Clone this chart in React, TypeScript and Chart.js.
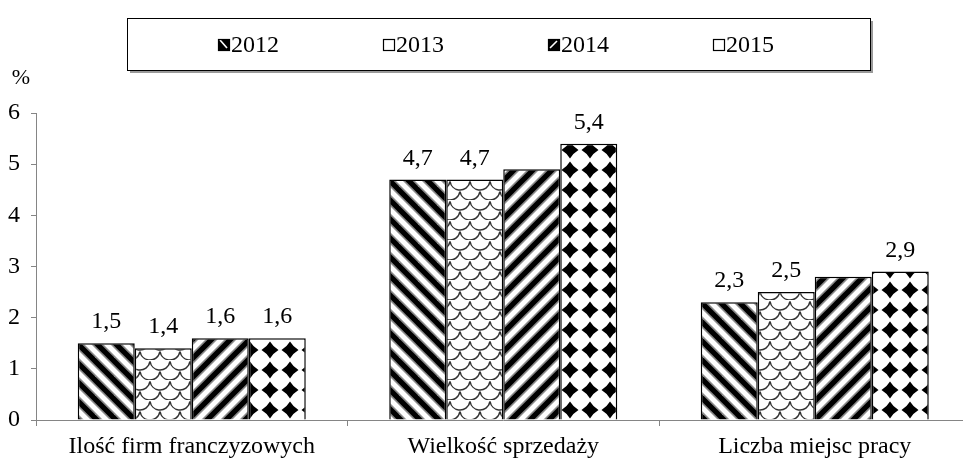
import { useEffect, useRef } from "react";
import { Chart, registerables } from "chart.js";
Chart.register(...registerables);

const categories = ["Ilość firm franczyzowych", "Wielkość sprzedaży", "Liczba miejsc pracy"];
const seriesNames = ["2012", "2013", "2014", "2015"];
const values2012 = [1.5, 4.7, 2.3];
const values2013 = [1.4, 4.7, 2.5];
const values2014 = [1.6, 4.9, 2.8];
const values2015 = [1.6, 5.4, 2.9];
const shown2012 = [true, true, true];
const shown2013 = [true, true, true];
const shown2014 = [true, false, false];
const shown2015 = [true, true, true];
const yTicks = [0, 1, 2, 3, 4, 5, 6];
const yUnit = "%";

const FONT = "'Liberation Serif', 'Times New Roman', serif";
const AXIS_GRAY = "#858585";

function tile(w: number, h: number, draw: (c: CanvasRenderingContext2D) => void) {
  const cv = document.createElement("canvas");
  cv.width = w;
  cv.height = h;
  const c = cv.getContext("2d")!;
  c.fillStyle = "#fff";
  c.fillRect(0, 0, w, h);
  draw(c);
  return cv;
}

function stripes(dir: 1 | -1) {
  const p = 19;
  return tile(p, p, (c) => {
    const lines = (width: number, color: string) => {
      c.strokeStyle = color;
      c.lineWidth = width;
      for (const k of [-1, 0, 1]) {
        c.beginPath();
        if (dir === 1) {
          c.moveTo(-5, -5 + k * p);
          c.lineTo(p + 5, p + 5 + k * p);
        } else {
          c.moveTo(-5, p + 5 + k * p);
          c.lineTo(p + 5, -5 + k * p);
        }
        c.stroke();
      }
    };
    lines(8.5, "#8a8a8a");
    lines(5.2, "#000");
  });
}

function scales() {
  return tile(20, 20, (c) => {
    c.strokeStyle = "#333";
    c.lineWidth = 1.5;
    const arcs: [number, number][] = [
      [0, 0],
      [20, 0],
      [10, 10],
      [0, 20],
      [20, 20],
    ];
    for (const [x, y] of arcs) {
      c.beginPath();
      c.arc(x, y, 10, 0.15, Math.PI - 0.15);
      c.stroke();
    }
  });
}

function diamonds() {
  return tile(20, 20, (c) => {
    c.fillStyle = "#000";
    const cx = 10,
      cy = 10,
      r = 8.5;
    const k = 3.2;
    c.beginPath();
    c.moveTo(cx, cy - r);
    c.quadraticCurveTo(cx + k, cy - k, cx + r, cy);
    c.quadraticCurveTo(cx + k, cy + k, cx, cy + r);
    c.quadraticCurveTo(cx - k, cy + k, cx - r, cy);
    c.quadraticCurveTo(cx - k, cy - k, cx, cy - r);
    c.fill();
  });
}

function fmt(v: number) {
  return v.toFixed(1).replace(".", ",");
}

export default function App() {
  const ref = useRef<HTMLCanvasElement | null>(null);

  useEffect(() => {
    document.documentElement.style.overflow = "hidden";
    document.body.style.margin = "0";
    document.body.style.overflow = "hidden";
    const canvas = ref.current!;
    const ctx = canvas.getContext("2d")!;
    const patterns = [
      ctx.createPattern(stripes(1), "repeat")!,
      ctx.createPattern(scales(), "repeat")!,
      ctx.createPattern(stripes(-1), "repeat")!,
      ctx.createPattern(diamonds(), "repeat")!,
    ];
    const allValues = [values2012, values2013, values2014, values2015];
    const allShown = [shown2012, shown2013, shown2014, shown2015];

    const extras = {
      id: "extras",
      afterDatasetsDraw(chart: any) {
        const c = chart.ctx as CanvasRenderingContext2D;
        c.save();
        c.fillStyle = "#000";
        c.font = `24px ${FONT}`;
        c.textAlign = "center";
        c.textBaseline = "alphabetic";
        chart.data.datasets.forEach((ds: any, di: number) => {
          const meta = chart.getDatasetMeta(di);
          meta.data.forEach((bar: any, i: number) => {
            if (!allShown[di][i]) return;
            c.fillText(fmt(ds.data[i]), bar.x, bar.y - 15);
          });
        });
        // unit label
        c.font = `22px ${FONT}`;
        c.textAlign = "center";
        c.textBaseline = "middle";
        c.fillText(yUnit, 21, 78);

        // legend box
        const bx = 127,
          by = 18,
          bw = 743,
          bh = 52;
        c.fillStyle = "#9a9a9a";
        c.fillRect(bx + 3, by + 3, bw, bh);
        c.fillStyle = "#fff";
        c.fillRect(bx, by, bw, bh);
        c.strokeStyle = "#000";
        c.lineWidth = 1;
        c.strokeRect(bx + 0.5, by + 0.5, bw, bh);
        c.font = `24px ${FONT}`;
        c.textAlign = "left";
        c.textBaseline = "middle";
        chart.data.datasets.forEach((ds: any, di: number) => {
          const mx = 218 + di * 165;
          const my = 39;
          const s = 11;
          if (di === 0 || di === 2) {
            c.fillStyle = "#000";
            c.fillRect(mx, my, s, s);
            c.strokeStyle = "#fff";
            c.lineWidth = 1.6;
            c.beginPath();
            if (di === 0) {
              c.moveTo(mx + 2, my + 1);
              c.lineTo(mx + 9, my + 9);
            } else {
              c.moveTo(mx + 2, my + 9);
              c.lineTo(mx + 9, my + 2);
            }
            c.stroke();
          } else {
            c.fillStyle = "#fff";
            c.fillRect(mx, my, s, s);
          }
          c.strokeStyle = "#000";
          c.lineWidth = 1.2;
          c.strokeRect(mx + 0.5, my + 0.5, s, s);
          c.fillStyle = "#000";
          c.fillText(ds.label, mx + s + 2, my + s / 2 + 1);
        });
        c.restore();
      },
    };

    const chart = new Chart(canvas, {
      type: "bar",
      data: {
        labels: categories,
        datasets: seriesNames.map((name, di) => ({
          label: name,
          data: allValues[di],
          backgroundColor: patterns[di],
          borderColor: "#000",
          borderWidth: 1.5,
          categoryPercentage: 0.732,
          barPercentage: 1,
        })),
      },
      options: {
        animation: false,
        responsive: false,
        events: [],
        layout: { padding: { top: 113, left: 0, right: 4.5, bottom: 0 } },
        plugins: {
          legend: { display: false },
          tooltip: { enabled: false },
          title: { display: false },
        },
        scales: {
          x: {
            grid: {
              display: true,
              drawOnChartArea: false,
              offset: true,
              tickLength: 6,
              color: AXIS_GRAY,
            },
            border: { display: true, color: AXIS_GRAY, width: 1 },
            ticks: {
              color: "#000",
              font: { family: FONT, size: 24 },
              padding: 6,
              maxRotation: 0,
              autoSkip: false,
            },
            afterFit(scale: any) {
              scale.height = 42;
            },
          },
          y: {
            min: 0,
            max: 6,
            grid: {
              display: true,
              drawOnChartArea: false,
              tickLength: 5,
              color: AXIS_GRAY,
            },
            border: { display: true, color: AXIS_GRAY, width: 1 },
            ticks: {
              color: "#000",
              font: { family: FONT, size: 24 },
              padding: 11,
            },
            afterBuildTicks(scale: any) {
              scale.ticks = yTicks.map((v) => ({ value: v }));
            },
            afterFit(scale: any) {
              scale.width = 36;
            },
          },
        },
      },
      plugins: [extras],
    });
    return () => chart.destroy();
  }, []);

  return <canvas ref={ref} width={975} height={462} style={{ display: "block" }} />;
}
